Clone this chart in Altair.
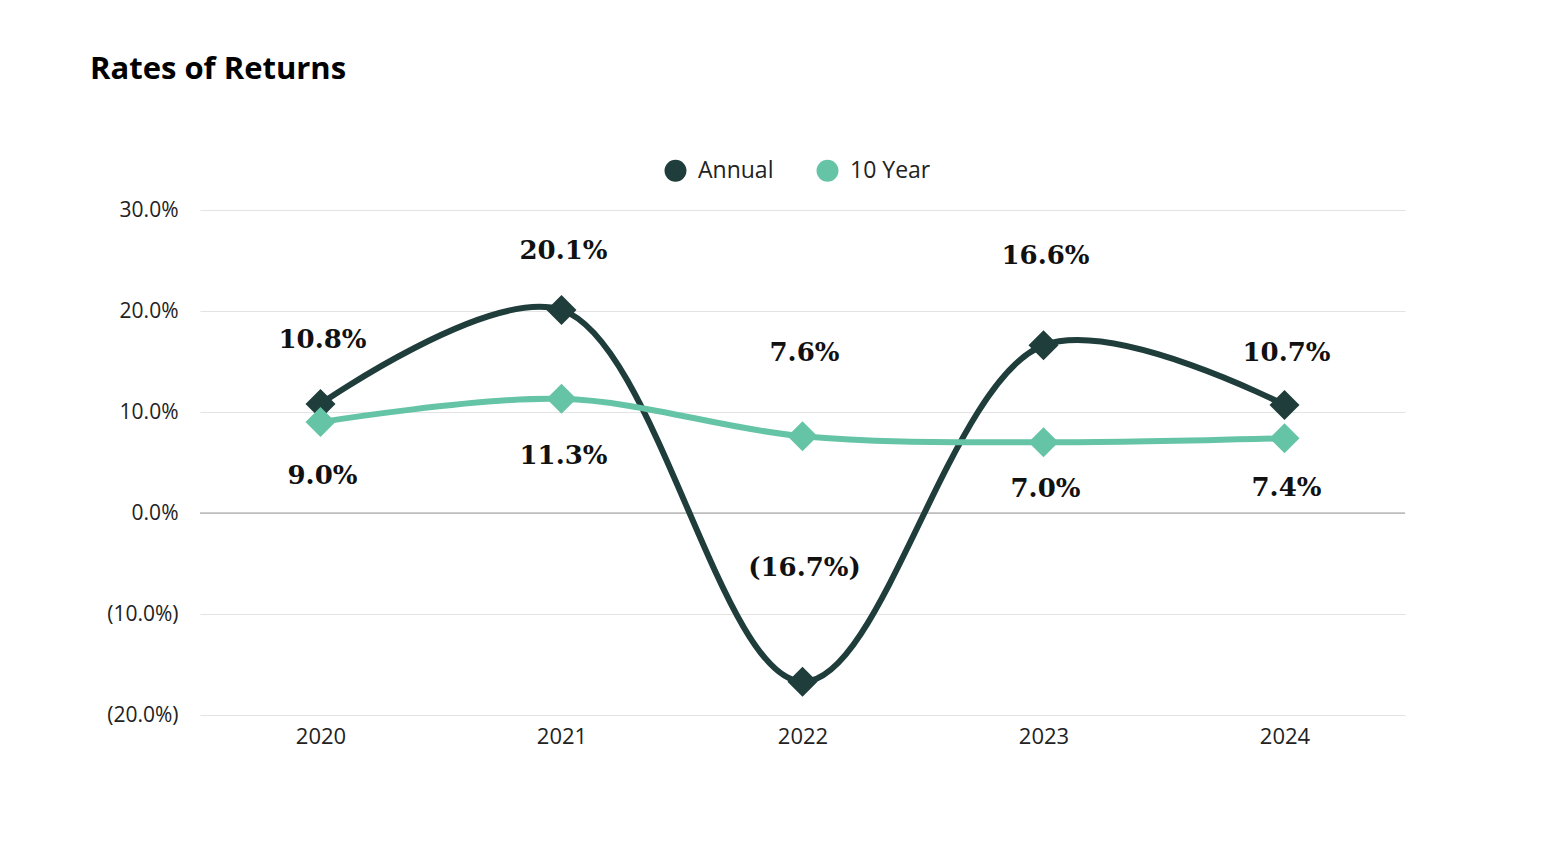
import altair as alt
import pandas as pd

years = ["2020", "2021", "2022", "2023", "2024"]
annual = [10.8, 20.1, -16.7, 16.6, 10.7]
ten_year = [9.0, 11.3, 7.6, 7.0, 7.4]
series_names = ["Annual", "10 Year"]
series_colors = ["#1f3d3b", "#66c4a6"]
y_ticks = [-20, -10, 0, 10, 20, 30]

# label placement (pixels, negative = above the point)
annual_label_dy = [-64, -59, -114, -89, -52]
ten_label_dy = [54, 57, -83, 47, 50]

PLOT_H = 505
Y_DOMAIN = [-20, 30]
PX_PER_UNIT = PLOT_H / (Y_DOMAIN[1] - Y_DOMAIN[0])


def fmt(v):
    return f"({abs(v):.1f}%)" if v < 0 else f"{v:.1f}%"


rows = []
for i, yr in enumerate(years):
    rows.append({"year": yr, "series": "Annual", "order": 0, "value": annual[i],
                 "label": fmt(annual[i]), "dy": annual_label_dy[i]})
for i, yr in enumerate(years):
    rows.append({"year": yr, "series": "10 Year", "order": 1, "value": ten_year[i],
                 "label": fmt(ten_year[i]), "dy": ten_label_dy[i]})
df = pd.DataFrame(rows)

x = alt.X("year:N", scale=alt.Scale(type="point", padding=0.5),
          axis=alt.Axis(title=None, labelAngle=0, ticks=False, domain=False, grid=False,
                        labelFontSize=22, labelColor="#222222", labelPadding=11,
                        labelFont="Open Sans"))
yscale = alt.Scale(domain=Y_DOMAIN, nice=False, zero=False)
y = alt.Y("value:Q", scale=yscale,
          axis=alt.Axis(title=None, values=y_ticks, ticks=False, domain=False,
                        grid=True, gridColor="#e3e3e3", gridWidth=1,
                        labelFontSize=21, labelColor="#222222", labelPadding=22,
                        labelFont="Open Sans",
                        labelExpr="datum.value < 0 ? '(' + format(-datum.value, '.1f') + '%)' : format(datum.value, '.1f') + '%'"))
color = alt.Color("series:N", scale=alt.Scale(domain=series_names, range=series_colors),
                  legend=alt.Legend(title=None, orient="none", direction="horizontal",
                                    legendX=464, legendY=-51, symbolType="circle",
                                    symbolSize=480, symbolStrokeWidth=0, symbolOpacity=1,
                                    labelFontSize=23, labelFont="Open Sans",
                                    labelColor="#222222", labelOffset=11,
                                    columnPadding=42))

base = alt.Chart(df)

zero = alt.Chart(pd.DataFrame({"z": [0]})).mark_rule(color="#9a9a9a", strokeWidth=1).encode(y="z:Q")

lines = base.mark_line(strokeWidth=6, interpolate="catmull-rom").encode(
    x=x, y=y, color=color, detail="series:N", order="order:Q")

points = base.mark_point(shape="diamond", size=900, filled=True, opacity=1).encode(
    x=x, y=y, color=alt.Color("series:N", scale=alt.Scale(domain=series_names, range=series_colors), legend=None))

labels = base.transform_calculate(
    label_y=f"datum.value - datum.dy / {PX_PER_UNIT}"
).mark_text(font="DejaVu Serif", fontWeight="bold", fontSize=26,
            color="#111111", baseline="middle", dx=2).encode(
    x=x, y=alt.Y("label_y:Q", scale=yscale), text="label:N")

chart = alt.layer(zero, lines, points, labels).properties(
    width=1205, height=PLOT_H,
    title=alt.TitleParams("Rates of Returns", anchor="start", frame="group",
                          font="Open Sans", fontSize=31, fontWeight="bold",
                          color="#000000", dx=-110, offset=73),
    autosize=alt.AutoSizeParams(type="none"),
    padding={"left": 192, "top": 202, "right": 130, "bottom": 120},
).configure_view(stroke=None)

chart.save("out.html", embed_options={"renderer": "svg", "actions": False})
